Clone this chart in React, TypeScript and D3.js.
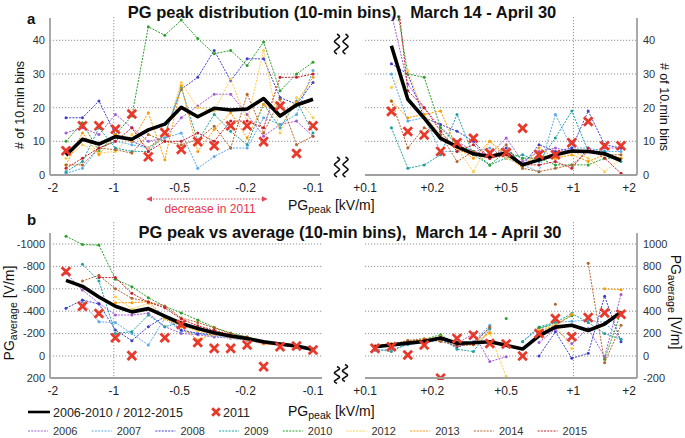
import * as d3 from 'd3'

// ---- data -----------------------------------------------------------------
const YEARS = ['2006', '2007', '2008', '2009', '2010', '2012', '2013', '2014', '2015']
const YEAR_COLORS = ['#a55bd8', '#5aa9ea', '#3f3fcc', '#1f9fa0', '#2ca02c', '#ffcc4d', '#ff9a00', '#b5652b', '#c8202b']

// x axis: bin index, ticks at fractional bin positions
const NEG_TICKS = [-0.8, 2.9, 6.9, 10.9, 15]
const NEG_TICK_LABELS = ['-2', '-1', '-0.5', '-0.2', '-0.1']
const POS_TICKS = [-0.6, 3.5, 8.0, 12.1, 15.5]
const POS_TICK_LABELS = ['+0.1', '+0.2', '+0.5', '+1', '+2']

const COUNT_TICKS = [0, 10, 20, 30, 40]
const AVG_NEG_TICKS = [200, 0, -200, -400, -600, -800, -1000]
const AVG_POS_TICKS = [-200, 0, 200, 400, 600, 800, 1000]

type V = number | null

// panel a, negative PG peak (16 bins)
const COUNT_NEG: V[][] = [
  [12.5, 14, 12, 18, 14, 10, 11, 17, 20.5, 24, 24, 18, 11.5, 15, 16, 11.5],
  [0.5, 2, 8, 10, 9, 8, 11, 12.5, 2, 5.5, 8, 8, 17, 15, 18, 31],
  [17, 17, 22, 12, 10, 8, 12, 25.5, 29, 37, 28, 34.5, 34.5, 23, 21, 27.5],
  [1, 4, 14, 8, 7, 7, 12, 26, 10, 18, 13, 9, 21, 14, 22, 12.5],
  [10, 15.5, 7, 12, 17.5, 44, 41.5, 46, 40.5, 36, 37, 32.5, 39.5, 25, 30, 33.5],
  [5, 9, 6.5, 7, 12, 8, 12, 27.5, 20, 19, 28.5, 16, 37, 12.5, 23, 17],
  [3, 12.5, 6, 12, 10, 18.5, 4.5, 26.5, 7, 13.5, 18.5, 11, 21, 18, 21.5, 29],
  [3, 3, 8, 7.5, 6.5, 12, 10, 9, 10.5, 14.5, 8, 24, 12.5, 22.5, 9, 11.5],
  [2, 5, 8, 10, 14, 7, 10, 10, 12.5, 10, 16, 16, 14, 29, 29, 30],
]
const COUNT_NEG_MEAN: V[] = [5.9, 10.6, 9.2, 11.4, 10.6, 13.4, 15.1, 20.1, 17.3, 19.8, 19.3, 19.6, 22.7, 17.5, 20.8, 22.5]
const COUNT_NEG_2011: V[] = [7.2, 14.6, 14.6, 13.6, 18.1, 5.4, 12.6, 7.6, 9.9, 8.7, 14.6, 14.6, 9.9, 20.5, 6.4, 14.6]

// panel a, positive PG peak (16 bins, first bin off scale)
const COUNT_POS: V[][] = [
  [null, 48, 27, 20, 14, 10, 7, 6, 11, 4, 7, 8, 7, 7, 8, 8],
  [null, 30, 16, 17, 7, 7, 7, 8, 5, 3, 1, 18, 8, 8, 7, 7],
  [null, 33, 30, 17, 15, 13, 10, 5, 8, 3, 9, 7, 8, 19, 9, 8],
  [null, 14, 2, 3, 6, 18, 6, 3, 5, 6, 4, 11, 19, 7, 7, 4],
  [null, 60, 30, 29, 14, 9, 7, 3, 7, 5, 5, 3, 3, 3, 5, 5],
  [null, 26, 31, 18, 12, 8, 1, 10, 5, 3, 6, 5, 7, 5, 1, 5],
  [null, 22, 17, 18, 19, 8, 5, 10, 6, 2, 8, 5, 6, 4, 6, 5],
  [null, 22, 8, 14, 12, 4, 7, 5, 9, 2, 1, 2, 3, 7, 6, 6],
  [null, 70, 25, 20, 13, 7, 9, 5, 6, 3, 3, 4, 2, 8, 5, 0.5],
]
const COUNT_POS_MEAN: V[] = [null, 38.4, 22.5, 16.9, 10.9, 8.4, 6.3, 5.5, 6.5, 3, 4.5, 6, 7.1, 7, 6.3, 4.3]
const COUNT_POS_2011: V[] = [null, 18.9, 12.9, 11.9, 7, 9.6, 10.9, 6.5, 6.7, 13.9, 6, 6, 9.6, 15.9, 8.7, 8.7]

// panel b, negative PG peak: average PG [V/m]
const AVG_NEG: V[][] = [
  [-738, -589, -470, -366, -366, -381, -262, -202, -190, -170, -160, -140, -110, -95, -75, -50],
  [null, -480, -306, -298, -200, -98, -336, -220, -200, -180, -160, -140, -120, -100, -80, -55],
  [-426, -500, -464, -232, -137, -262, -351, -232, -202, -190, -170, -150, -120, -100, -80, -60],
  [null, -820, -670, -200, -217, -366, -262, -300, -240, -200, -170, -150, -120, -100, -80, -55],
  [-1070, -995, -990, -685, -619, -520, -445, -385, -321, -256, -205, -170, -130, -105, -85, -60],
  [null, null, null, -530, -420, -470, -330, -270, -220, -190, -165, -145, -115, -100, -80, -55],
  [null, null, null, -476, -476, -485, -345, -262, -143, -202, -170, -150, -110, -95, -80, -55],
  [null, -670, -720, -600, -515, -485, -446, -340, -300, -250, -200, -170, -120, -100, -80, -50],
  [null, null, -700, -700, -560, -480, -430, -330, -270, -230, -190, -160, -120, -100, -80, -55],
]
const AVG_NEG_MEAN: V[] = [-675, -622, -527, -444, -394, -423, -355, -290, -246, -207, -178, -157, -127, -107, -89, -59]
const AVG_NEG_2011: V[] = [-755, -444, -379, -163, -3, null, -163, -281, -121, -68, -68, -98, 95, -83, -89, -53]

// panel b, positive PG peak
const AVG_POS: V[][] = [
  [80, 90, 110, 130, 150, 110, 201, -50, -6, null, 120, 240, 112, 246, -6, 550],
  [50, 60, 100, 120, 140, 90, 130, 275, null, 130, 246, 300, 310, 320, 300, 150],
  [90, 100, 110, 140, 150, 80, 120, 250, null, null, 0, 216, -21, 24, 533, 127],
  [60, 40, 110, 140, 170, 60, 40, 240, null, 127, 260, 300, 379, 300, 200, 150],
  [80, 110, 130, 150, 190, 100, 110, null, 334, null, 250, 280, 360, null, -30, 390],
  [80, 100, 120, 140, 170, 120, 100, 200, -184, null, 230, 280, 68, null, null, null],
  [90, 110, 130, 150, 170, 120, 110, 210, null, null, 220, 270, 372, null, 600, 592],
  [80, 100, 140, 155, 130, 90, 100, 260, null, null, null, 462, null, 829, -60, 275],
  [85, 100, 120, 140, 160, 100, 110, null, null, null, 200, 260, null, null, null, null],
]
const AVG_POS_MEAN: V[] = [83, 98, 115, 130, 160, 115, 118, 127, 95, 62, 180, 258, 275, 228, 285, 390]
const AVG_POS_2011: V[] = [68, 83, 9, 98, -198, 157, 186, 112, 107, 0, 201, 334, 172, 343, 385, 373]

// ---- scales -----------------------------------------------------------------
const xNeg = d3.scaleLinear().domain([0, 15]).range([66, 313])
const xPos = d3.scaleLinear().domain([0, 15]).range([375, 621])
const yCount = d3.scaleLinear().domain([0, 40]).range([175, 40.3])
const yAvgNeg = d3.scaleLinear().domain([0, -1000]).range([356, 244])
const yAvgPos = d3.scaleLinear().domain([0, 1000]).range([356, 244])

const FONT = 'Liberation Sans, Arial, Helvetica, sans-serif'
const X_RED = '#e8392b'
const AXIS_GRAY = '#a0a0a0'
const GRID = '#777'

type Sc = d3.ScaleLinear<number, number>

function YearLine({ x, y, values, color }: { x: Sc; y: Sc; values: V[]; color: string }) {
  const line = d3.line<V>().defined(v => v != null).x((_, i) => x(i)).y(v => y(v as number))
  return (
    <g>
      <path d={line(values) || ''} fill="none" stroke={color} strokeWidth={1} strokeDasharray="2,1.2" />
      {values.map((v, i) => v == null ? null : <circle key={i} cx={x(i)} cy={y(v)} r={1.5} fill={color} />)}
    </g>
  )
}

function MeanLine({ x, y, values }: { x: Sc; y: Sc; values: V[] }) {
  const line = d3.line<V>().defined(v => v != null).x((_, i) => x(i)).y(v => y(v as number))
  return <path d={line(values) || ''} fill="none" stroke="#000" strokeWidth={3.6} strokeLinejoin="round" />
}

function Cross({ cx, cy, s = 4.3 }: { cx: number; cy: number; s?: number }) {
  return (
    <g stroke={X_RED} strokeWidth={2.8}>
      <line x1={cx - s} y1={cy - s} x2={cx + s} y2={cy + s} />
      <line x1={cx - s} y1={cy + s} x2={cx + s} y2={cy - s} />
    </g>
  )
}

function Squiggle({ cx, cy, h = 20, a = 2.6 }: { cx: number; cy: number; h?: number; a?: number }) {
  const pts: [number, number][] = []
  const n = 8
  for (let k = 0; k <= n; k++) {
    const off = k % 2 === 0 ? 0 : (k % 4 === 1 ? a : -a)
    pts.push([cx + off, cy - h / 2 + (k * h) / n])
  }
  const d = d3.line().curve(d3.curveCardinal)(pts) || ''
  return <path d={d} fill="none" stroke="#111" strokeWidth={1.6} />
}

interface PanelProps {
  id: string
  x: Sc
  y: Sc
  x0: number
  x1: number
  top: number
  bottom: number
  series: V[][]
  mean: V[]
  y2011: V[]
  xTicks: number[]
  xLabels: string[]
  xLabelY: number
  yTicks: number[]
  grid: number[]
  vline: number
  vTop: number
  side: 'left' | 'right'
}

function Panel(p: PanelProps) {
  const axisX = p.side === 'left' ? p.x0 : p.x1
  return (
    <g>
      <defs>
        <clipPath id={p.id}>
          <rect x={p.x0} y={p.top - 2} width={p.x1 - p.x0} height={p.bottom - p.top + 4} />
        </clipPath>
      </defs>
      {p.grid.map(t => (
        <line key={t} x1={p.x0} x2={p.x1} y1={p.y(t)} y2={p.y(t)} stroke={GRID} strokeWidth={0.8} strokeDasharray="1.2,1.8" />
      ))}
      <line x1={p.x(p.vline)} x2={p.x(p.vline)} y1={p.vTop} y2={p.bottom} stroke={GRID} strokeWidth={0.8} strokeDasharray="1.2,1.8" />
      <g clipPath={`url(#${p.id})`}>
        {p.series.map((s, k) => <YearLine key={k} x={p.x} y={p.y} values={s} color={YEAR_COLORS[k]} />)}
        <MeanLine x={p.x} y={p.y} values={p.mean} />
        {p.y2011.map((v, i) => v == null ? null : <Cross key={i} cx={p.x(i)} cy={p.y(v)} />)}
      </g>
      <line x1={p.x0} x2={p.x1} y1={p.bottom} y2={p.bottom} stroke={AXIS_GRAY} strokeWidth={1.8} />
      <line x1={axisX} x2={axisX} y1={p.top} y2={p.bottom} stroke={AXIS_GRAY} strokeWidth={1.8} />
      {p.xTicks.map((t, i) => (
        <text key={i} x={p.x(t)} y={p.xLabelY} textAnchor="middle" fontSize={12} fill="#222">{p.xLabels[i]}</text>
      ))}
      {p.yTicks.map(t => (
        <text key={t} x={p.side === 'left' ? p.x0 - 5 : p.x1 + 6} y={p.y(t)} dy="0.35em"
          textAnchor={p.side === 'left' ? 'end' : 'start'} fontSize={11} fill="#333">{t}</text>
      ))}
    </g>
  )
}

function PgPeakLabel({ x, y }: { x: number; y: number }) {
  return (
    <text x={x} y={y} fontSize={14} fill="#111">
      <tspan>PG</tspan>
      <tspan fontSize={10.5} dy={3}>peak</tspan>
      <tspan dy={-3}> [kV/m]</tspan>
    </text>
  )
}

function PgAvgLabel({ x, y, rot }: { x: number; y: number; rot: number }) {
  return (
    <text transform={`translate(${x},${y}) rotate(${rot})`} textAnchor="middle" fontSize={14} fill="#111">
      <tspan>PG</tspan>
      <tspan fontSize={10.5} dy={3}>average</tspan>
      <tspan dy={-3}> [V/m]</tspan>
    </text>
  )
}

export default function App() {
  const legendRow2 = YEARS.map((yr, k) => ({ yr, color: YEAR_COLORS[k], x: 28 + k * 63.7 }))
  return (
    <svg width={685} height={438} style={{ position: 'absolute', left: 0, top: 0, background: '#fff' }} fontFamily={FONT}>
      {/* titles */}
      <text x={27} y={24} fontSize={15} fontWeight="bold" fill="#111">a</text>
      <text x={342} y={17.5} textAnchor="middle" fontSize={16.5} fontWeight="bold" fill="#111" style={{ whiteSpace: 'pre' }}>
        {'PG peak distribution (10-min bins),  March 14 - April 30'}
      </text>
      <text x={27} y={225} fontSize={15} fontWeight="bold" fill="#111">b</text>
      <text x={350} y={238} textAnchor="middle" fontSize={16.5} fontWeight="bold" fill="#111" style={{ whiteSpace: 'pre' }}>
        {'PG peak vs average (10-min bins),  March 14 - April 30'}
      </text>

      {/* panel a */}
      <Panel id="ca-l" x={xNeg} y={yCount} x0={50} x1={320} top={18} bottom={175}
        series={COUNT_NEG} mean={COUNT_NEG_MEAN} y2011={COUNT_NEG_2011}
        xTicks={NEG_TICKS} xLabels={NEG_TICK_LABELS} xLabelY={192}
        yTicks={COUNT_TICKS} grid={[10, 20, 30, 40]} vline={NEG_TICKS[1]} vTop={17} side="left" />
      <Panel id="ca-r" x={xPos} y={yCount} x0={365} x1={637} top={18} bottom={175}
        series={COUNT_POS} mean={COUNT_POS_MEAN} y2011={COUNT_POS_2011}
        xTicks={POS_TICKS} xLabels={POS_TICK_LABELS} xLabelY={192}
        yTicks={COUNT_TICKS} grid={[10, 20, 30, 40]} vline={POS_TICKS[3]} vTop={17} side="right" />

      <text transform="translate(24,105) rotate(-90)" textAnchor="middle" fontSize={12.5} fill="#111"># of 10.min bins</text>
      <text transform="translate(660,107) rotate(90)" textAnchor="middle" fontSize={12.5} fill="#111"># of 10.min bins</text>

      <Squiggle cx={337} cy={44} />
      <Squiggle cx={345.5} cy={44} />
      <Squiggle cx={337} cy={167} />
      <Squiggle cx={345.5} cy={167} />

      <PgPeakLabel x={288} y={210} />

      {/* decrease in 2011 */}
      <defs>
        <marker id="arrR" viewBox="0 0 10 10" refX={9} refY={5} markerWidth={5} markerHeight={5} orient="auto">
          <path d="M0,0 L10,5 L0,10 z" fill="#e8465a" />
        </marker>
        <marker id="arrL" viewBox="0 0 10 10" refX={1} refY={5} markerWidth={5} markerHeight={5} orient="auto">
          <path d="M10,0 L0,5 L10,10 z" fill="#e8465a" />
        </marker>
      </defs>
      <line x1={147} x2={267} y1={199} y2={199} stroke="#e8465a" strokeWidth={1.2} strokeDasharray="1.5,1.5"
        markerStart="url(#arrL)" markerEnd="url(#arrR)" />
      <text x={210} y={213} textAnchor="middle" fontSize={12} fill="#e8334a">decrease in 2011</text>

      {/* panel b */}
      <Panel id="cb-l" x={xNeg} y={yAvgNeg} x0={50} x1={322} top={233} bottom={378}
        series={AVG_NEG} mean={AVG_NEG_MEAN} y2011={AVG_NEG_2011}
        xTicks={NEG_TICKS} xLabels={NEG_TICK_LABELS} xLabelY={395}
        yTicks={AVG_NEG_TICKS} grid={[0, -200, -400, -600, -800, -1000]} vline={NEG_TICKS[1]} vTop={222} side="left" />
      <Panel id="cb-r" x={xPos} y={yAvgPos} x0={365} x1={637} top={233} bottom={378}
        series={AVG_POS} mean={AVG_POS_MEAN} y2011={AVG_POS_2011}
        xTicks={POS_TICKS} xLabels={POS_TICK_LABELS} xLabelY={395}
        yTicks={AVG_POS_TICKS} grid={[0, 200, 400, 600, 800, 1000]} vline={POS_TICKS[3]} vTop={222} side="right" />

      <PgAvgLabel x={14} y={313} rot={-90} />
      <PgAvgLabel x={671} y={302} rot={90} />

      <Squiggle cx={337} cy={375} h={17} />
      <Squiggle cx={345} cy={373} h={17} />

      <PgPeakLabel x={288} y={416} />

      {/* legend */}
      <line x1={28} x2={50} y1={412} y2={412} stroke="#000" strokeWidth={2.6} />
      <text x={53} y={416.5} fontSize={12.5} fill="#222">2006-2010 / 2012-2015</text>
      <Cross cx={216} cy={412} s={3.8} />
      <text x={223} y={416.5} fontSize={12.5} fill="#222">2011</text>
      {legendRow2.map(d => (
        <g key={d.yr}>
          <line x1={d.x} x2={d.x + 20} y1={431} y2={431} stroke={d.color} strokeWidth={1} strokeDasharray="2,1.2" />
          <text x={d.x + 25} y={435} fontSize={11} fill="#333">{d.yr}</text>
        </g>
      ))}
    </svg>
  )
}
